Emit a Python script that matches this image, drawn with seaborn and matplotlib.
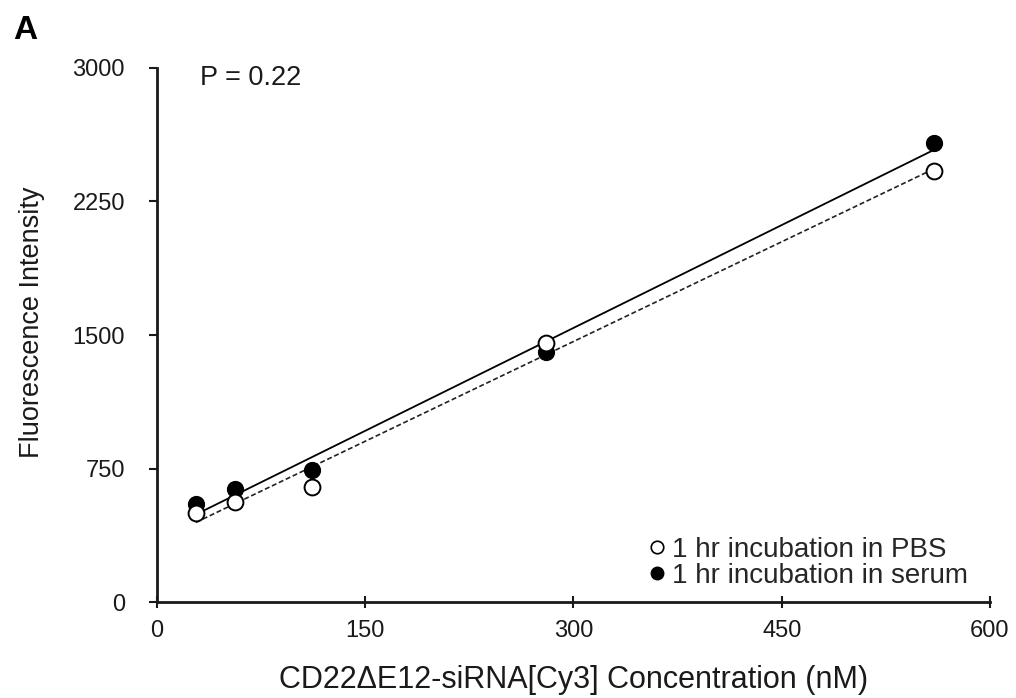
import numpy as np
import pandas as pd
import matplotlib
matplotlib.use("Agg")
import matplotlib.pyplot as plt
from matplotlib.lines import Line2D
import seaborn as sns

# ---- data ----
conc = [28, 56, 112, 280, 560]                 # nM
pbs = [500, 562, 646, 1455, 2421]              # open circles, dashed fit
serum = [551, 635, 742, 1404, 2579]            # filled circles, solid fit
x_ticks = [0, 150, 300, 450, 600]
y_ticks = [0, 750, 1500, 2250, 3000]
series_labels = ["1 hr incubation in PBS", "1 hr incubation in serum"]
p_text = "P = 0.22"

sns.set_style("ticks")
plt.rcParams["font.family"] = ["Liberation Sans", "DejaVu Sans"]

fig = plt.figure(figsize=(10.16, 6.98), dpi=100)
ax = fig.add_axes([0.1545, 0.1375, 0.8199, 0.7651])

# regression lines (limited to the data range)
sns.regplot(x=conc, y=serum, ci=None, scatter=False, ax=ax, truncate=True,
            color="black", line_kws=dict(lw=1.3, ls="-"))
sns.regplot(x=conc, y=pbs, ci=None, scatter=False, ax=ax, truncate=True,
            color="#222222", line_kws=dict(lw=1.2, ls=(0, (3, 1.6))))

# points: filled first, open on top
sns.scatterplot(x=conc, y=serum, ax=ax, marker="o", s=130, color="black",
                edgecolor="black", linewidth=1.0, zorder=3)
sns.scatterplot(x=conc, y=pbs, ax=ax, marker="o", s=130, color="white",
                edgecolor="black", linewidth=1.4, zorder=4)

ax.set_xlim(0, 600)
ax.set_ylim(0, 3000)
ax.set_xticks(x_ticks)
ax.set_yticks(y_ticks)
ax.set_xticklabels([str(v) for v in x_ticks])
ax.set_yticklabels([str(v) for v in y_ticks])

for side in ["top", "right"]:
    ax.spines[side].set_visible(False)
for side in ["left", "bottom"]:
    ax.spines[side].set_linewidth(2.0)
    ax.spines[side].set_color("#1a1a1a")

ax.tick_params(axis="y", direction="out", length=6, width=1.5, pad=17,
               labelsize=17, colors="#1a1a1a")
ax.tick_params(axis="x", direction="inout", length=8, width=1.5, pad=9,
               labelsize=17, colors="#1a1a1a")

ax.set_xlabel("CD22\u0394E12-siRNA[Cy3] Concentration (nM)", fontsize=22,
              color="#1a1a1a")
ax.xaxis.label.set_va("baseline")
ax.xaxis.set_label_coords(0.5, -0.161)
ax.set_ylabel("Fluorescence Intensity", fontsize=19.5, color="#1a1a1a")
ax.yaxis.set_label_coords(-0.1345, 0.524)

ax.text(31, 2944, p_text, fontsize=19.5, va="center", ha="left", color="#1a1a1a")

handles = [
    Line2D([], [], marker="o", ls="none", markersize=9, markerfacecolor="white",
           markeredgecolor="black", markeredgewidth=1.2),
    Line2D([], [], marker="o", ls="none", markersize=9, markerfacecolor="black",
           markeredgecolor="black"),
]
ax.legend(handles, series_labels, loc="lower right",
          bbox_to_anchor=(0.9736, 0.025), frameon=False, fontsize=20,
          handletextpad=0.15, handlelength=0.8, labelspacing=0.0,
          borderpad=0, borderaxespad=0)

fig.text(0.0128, 0.9785, "A", fontsize=24, fontweight="bold", va="top",
         ha="left", color="black")

fig.savefig("out.png", dpi=100, facecolor="white")
